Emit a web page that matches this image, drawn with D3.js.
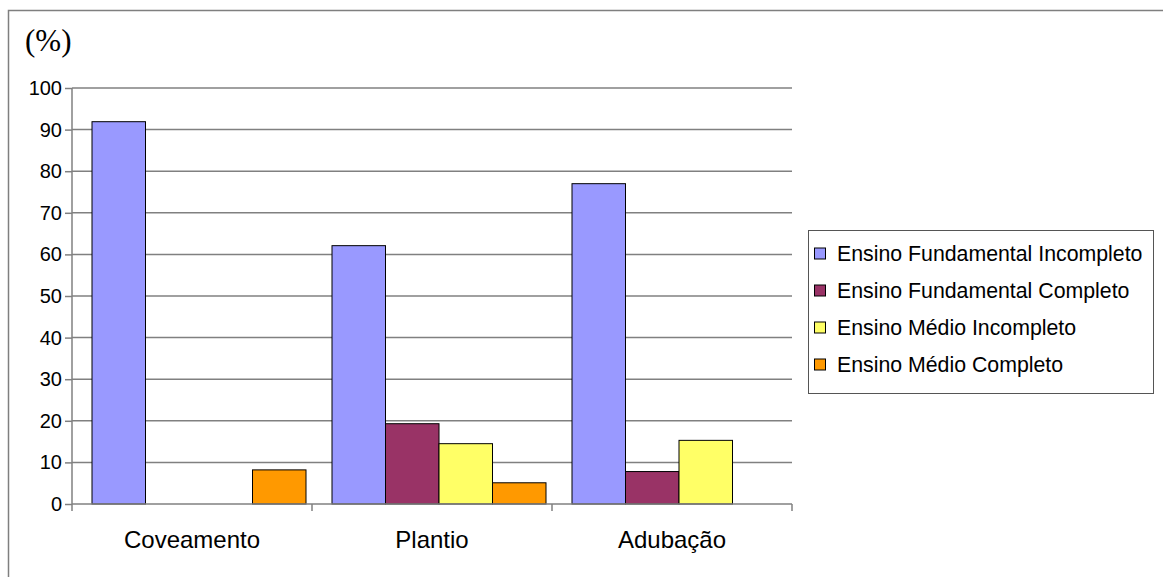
<!DOCTYPE html>
<html>
<head>
<meta charset="utf-8">
<script src="https://cdn.jsdelivr.net/npm/d3@7"></script>
<style>
  body { margin: 0; background: #fff; }
  svg { display: block; }
  text { font-family: "Liberation Sans", Arial, sans-serif; fill: #000; }
</style>
</head>
<body>
<svg width="1163" height="577"></svg>
<script>
// chart data
const categories = ["Coveamento", "Plantio", "Adubação"];
const seriesNames = ["Ensino Fundamental Incompleto", "Ensino Fundamental Completo", "Ensino Médio Incompleto", "Ensino Médio Completo"];
const seriesColors = ["#9999FF", "#993366", "#FFFF66", "#FF9900"];
const efIncompleto = [91.9, 62.1, 77.0];
const efCompleto = [0, 19.3, 7.8];
const emIncompleto = [0, 14.5, 15.3];
const emCompleto = [8.2, 5.1, 0];
const yTicks = [0, 10, 20, 30, 40, 50, 60, 70, 80, 90, 100];

const values = [efIncompleto, efCompleto, emIncompleto, emCompleto];

const svg = d3.select("svg");

// outer frame
svg.append("rect")
    .attr("x", 8.5).attr("y", 10.5)
    .attr("width", 1170).attr("height", 600)
    .attr("fill", "none")
    .attr("stroke", "#7f7f7f")
    .attr("stroke-width", 1.5);

const plotLeft = 72, plotRight = 792, plotTop = 88, plotBottom = 504;

const x0 = d3.scaleBand().domain(categories).range([plotLeft, plotRight]);
const bw = x0.bandwidth();
const x1 = d3.scaleBand().domain(d3.range(seriesNames.length))
    .range([bw * 20 / 240, bw * 234 / 240]);
const y = d3.scaleLinear().domain([0, 100]).range([plotBottom, plotTop]);

// gridlines
svg.append("g").selectAll("line")
    .data(yTicks.filter(t => t > 0))
    .enter().append("line")
    .attr("x1", plotLeft).attr("x2", plotRight)
    .attr("y1", d => y(d)).attr("y2", d => y(d))
    .attr("stroke", "#808080")
    .attr("stroke-width", 1.5);

// bars
const groups = svg.append("g").selectAll("g")
    .data(categories)
    .enter().append("g")
    .attr("transform", c => "translate(" + x0(c) + ",0)");

groups.selectAll("rect")
    .data((c, i) => values.map((s, k) => ({ k: k, v: s[i] })).filter(d => d.v > 0))
    .enter().append("rect")
    .attr("x", d => x1(d.k))
    .attr("width", x1.bandwidth())
    .attr("y", d => y(d.v))
    .attr("height", d => y(0) - y(d.v))
    .attr("fill", d => seriesColors[d.k])
    .attr("stroke", "#000")
    .attr("stroke-width", 1);

// y axis
const yAxis = svg.append("g")
    .attr("transform", "translate(" + plotLeft + ",0)")
    .call(d3.axisLeft(y).tickValues(yTicks).tickSize(7).tickPadding(3).tickFormat(d3.format("d")));
yAxis.selectAll("line, path").attr("stroke", "#808080").attr("stroke-width", 1.5);
yAxis.select("path").attr("d", "M0," + plotTop + "V" + plotBottom);
yAxis.selectAll("text").style("font-size", "20px").attr("fill", "#000");

// x axis
const xAxis = svg.append("g")
    .attr("transform", "translate(0," + plotBottom + ")");
xAxis.append("line")
    .attr("x1", plotLeft).attr("x2", plotRight)
    .attr("stroke", "#808080").attr("stroke-width", 1.5);
xAxis.selectAll(".tk")
    .data(categories.map(c => x0(c)).concat([plotRight]))
    .enter().append("line")
    .attr("class", "tk")
    .attr("x1", d => d).attr("x2", d => d)
    .attr("y1", 0).attr("y2", 7)
    .attr("stroke", "#808080").attr("stroke-width", 1.5);
xAxis.selectAll(".cat")
    .data(categories)
    .enter().append("text")
    .attr("class", "cat")
    .attr("x", c => x0(c) + bw / 2)
    .attr("y", 44)
    .attr("text-anchor", "middle")
    .style("font-size", "24px")
    .text(c => c);

// unit label
svg.append("text")
    .attr("x", 25).attr("y", 51)
    .style("font-family", "'Liberation Serif', 'Times New Roman', serif")
    .style("font-size", "31px")
    .text("(%)");

// legend
const legend = svg.append("g");
legend.append("rect")
    .attr("x", 808.5).attr("y", 230.5)
    .attr("width", 345).attr("height", 163)
    .attr("fill", "#fff")
    .attr("stroke", "#555")
    .attr("stroke-width", 1);

const items = legend.selectAll(".item")
    .data(seriesNames)
    .enter().append("g")
    .attr("class", "item")
    .attr("transform", (d, i) => "translate(0," + (253.5 + i * 37) + ")");
items.append("rect")
    .attr("x", 814.5).attr("y", -5.5)
    .attr("width", 11).attr("height", 11)
    .attr("fill", (d, i) => seriesColors[i])
    .attr("stroke", "#000");
items.append("text")
    .attr("x", 837).attr("y", 7.5)
    .style("font-size", "21.3px")
    .text(d => d);
</script>
</body>
</html>
